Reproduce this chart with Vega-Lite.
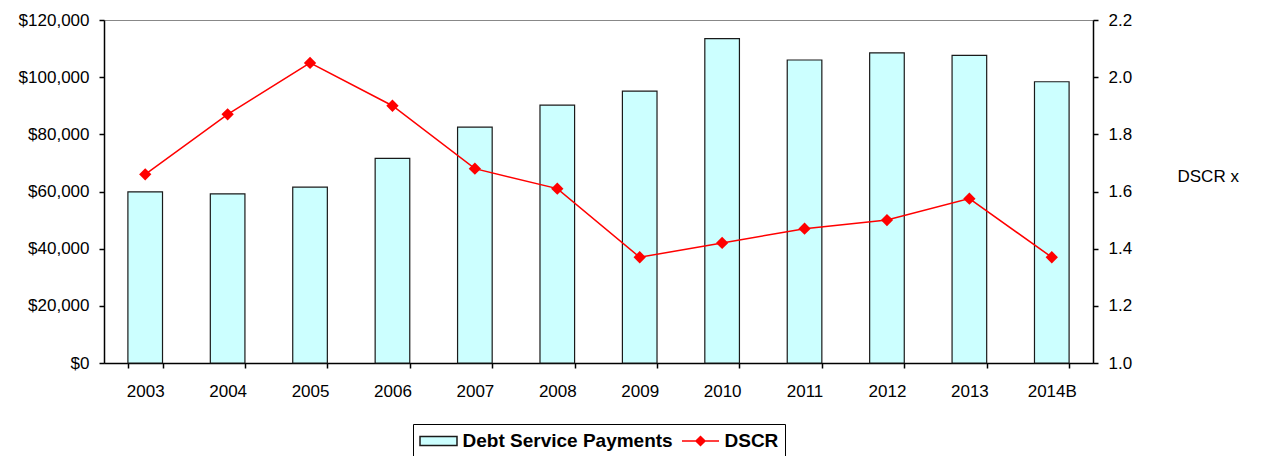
{
  "$schema": "https://vega.github.io/schema/vega-lite/v6.json",
  "width": 989,
  "height": 343,
  "autosize": {"type": "none"},
  "padding": {"left": 104, "top": 20, "right": 179, "bottom": 93},
  "background": "white",
  "config": {
    "font": "Liberation Sans",
    "view": {"stroke": "#888888", "strokeWidth": 1},
    "axis": {
      "grid": false,
      "domainColor": "#000000",
      "domainWidth": 1.5,
      "tickColor": "#000000",
      "tickWidth": 1.5,
      "tickSize": 5,
      "labelColor": "#000000",
      "labelFontSize": 17,
      "labelFont": "Liberation Sans"
    },
    "legend": {
      "orient": "none",
      "legendX": 309,
      "legendY": 404,
      "direction": "horizontal",
      "padding": 6,
      "strokeColor": "#000000",
      "fillColor": "#FFFFFF",
      "labelFontSize": 19,
      "labelFontWeight": "bold",
      "labelColor": "#000000",
      "labelFont": "Liberation Sans",
      "labelLimit": 400,
      "symbolSize": 400,
      "symbolOffset": 8.5,
      "labelOffset": 13,
      "columnPadding": 6
    }
  },
  "data": {
    "values": [
      {"year": "2003", "payments": 59900, "dscr": 1.66},
      {"year": "2004", "payments": 59200, "dscr": 1.87},
      {"year": "2005", "payments": 61500, "dscr": 2.05},
      {"year": "2006", "payments": 71600, "dscr": 1.90},
      {"year": "2007", "payments": 82500, "dscr": 1.68},
      {"year": "2008", "payments": 90200, "dscr": 1.61},
      {"year": "2009", "payments": 95100, "dscr": 1.37},
      {"year": "2010", "payments": 113500, "dscr": 1.42},
      {"year": "2011", "payments": 106000, "dscr": 1.47},
      {"year": "2012", "payments": 108500, "dscr": 1.50},
      {"year": "2013", "payments": 107600, "dscr": 1.575},
      {"year": "2014B", "payments": 98400, "dscr": 1.37}
    ]
  },
  "layer": [
    {
      "mark": {"type": "bar", "fill": "#CCFFFF", "strokeWidth": 1.2},
      "encoding": {
        "x": {
          "field": "year",
          "type": "nominal",
          "sort": null,
          "scale": {"paddingInner": 0.58, "paddingOuter": 0.29},
          "axis": {"title": null, "labelAngle": 0, "tickBand": "extent", "labelPadding": 15}
        },
        "y": {
          "field": "payments",
          "type": "quantitative",
          "scale": {"domain": [0, 120000], "nice": false},
          "axis": {
            "title": null,
            "values": [0, 20000, 40000, 60000, 80000, 100000, 120000],
            "format": "$,.0f",
            "labelPadding": 10
          }
        },
        "stroke": {
          "datum": "Debt Service Payments",
          "type": "nominal",
          "scale": {"domain": ["Debt Service Payments", "DSCR"], "range": ["#1a1a1a", "#FF0000"]},
          "legend": {
            "title": null,
            "encode": {
              "symbols": {
                "update": {
                  "shape": [{"test": "datum.value === 'DSCR'", "value": "M-1.85,0H1.85M0,-0.45L0.45,0L0,0.45L-0.45,0Z"}, {"value": "M-1.85,-0.45H1.85V0.45H-1.85Z"}],
                  "fill": [{"test": "datum.value === 'DSCR'", "value": "#FF0000"}, {"value": "#CCFFFF"}],
                  "strokeWidth": {"value": 1.5},
                  "opacity": {"value": 1},
                  "fillOpacity": {"value": 1}
                }
              }
            }
          }
        }
      }
    },
    {
      "mark": {"type": "line", "strokeWidth": 1.5, "point": {"shape": "diamond", "size": 90, "filled": true, "fill": "#FF0000", "color": "#FF0000"}},
      "encoding": {
        "x": {"field": "year", "type": "nominal", "sort": null},
        "y": {
          "field": "dscr",
          "type": "quantitative",
          "scale": {"domain": [1, 2.2], "nice": false, "zero": false},
          "axis": {
            "orient": "right",
            "values": [1.0, 1.2, 1.4, 1.6, 1.8, 2.0, 2.2],
            "format": ".1f",
            "labelPadding": 10,
            "title": "DSCR x",
            "titleAngle": 0,
            "titleAlign": "left",
            "titleBaseline": "middle",
            "titleX": 84,
            "titleY": 156,
            "titleFontSize": 17,
            "titleFontWeight": "normal",
            "titleColor": "#000000",
            "titleFont": "Liberation Sans"
          }
        },
        "stroke": {
          "datum": "DSCR",
          "type": "nominal",
          "legend": {
            "title": null,
            "encode": {
              "symbols": {
                "update": {
                  "shape": [{"test": "datum.value === 'DSCR'", "value": "M-1.85,0H1.85M0,-0.45L0.45,0L0,0.45L-0.45,0Z"}, {"value": "M-1.85,-0.45H1.85V0.45H-1.85Z"}],
                  "fill": [{"test": "datum.value === 'DSCR'", "value": "#FF0000"}, {"value": "#CCFFFF"}],
                  "strokeWidth": {"value": 1.5},
                  "opacity": {"value": 1},
                  "fillOpacity": {"value": 1}
                }
              }
            }
          }
        }
      }
    }
  ],
  "resolve": {"scale": {"y": "independent"}}
}
